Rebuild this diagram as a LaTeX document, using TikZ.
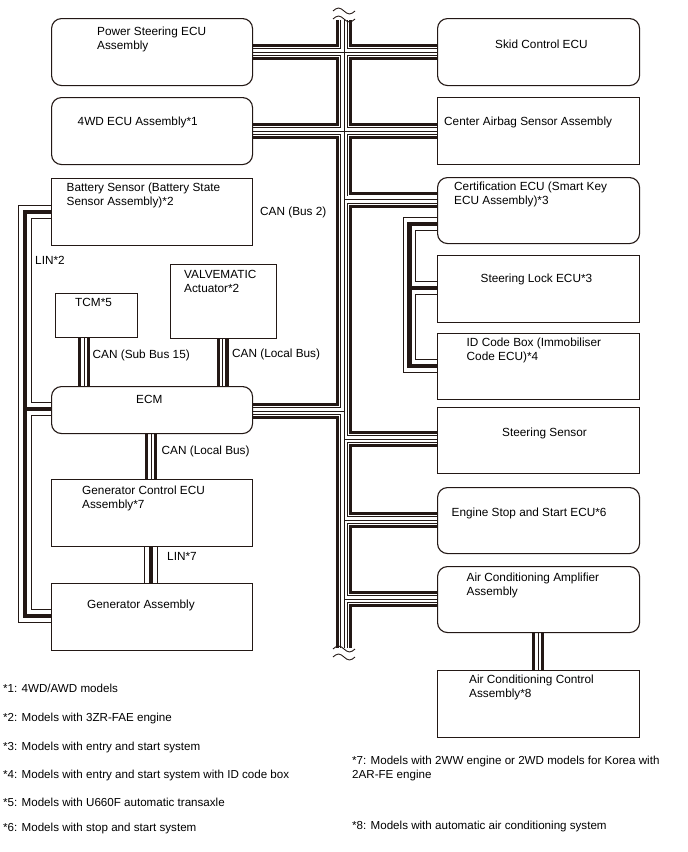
\documentclass[tikz,border=0pt]{standalone}
\usepackage{fontspec}
\setmainfont{Liberation Sans}
\usetikzlibrary{backgrounds}
\definecolor{ink}{RGB}{35,24,21}
\newcommand\mainbus{(ttop) -- (tbot)
  (ps.east |- bA) -- (sk.west |- bA)
  (wd.east |- bB) -- (ca.west |- bB)
  (bC) -- (ce.west |- bC)
  (ecm.east |- bD) -- (bD)
  (bE) -- (ss.west |- bE)
  (bF) -- (es.west |- bF)
  (bG) -- (ac.west |- bG)}
\newcommand\linbus{(bat.west |- lA) -- (lA) -- (lC) -- (gen.west |- lC)
  (lB) -- (ecm.west |- lB)
  (xG |- gc.south) -- (xG |- gen.north)}
\newcommand\certbus{(ce.west |- cA) -- (cA) -- (cC) -- (id.west |- cC)
  (cB) -- (sl.west |- cB)}
\newcommand\localbus{(xT |- tcm.south) -- (xT |- ecm.north)
  (xV |- va.south) -- (xV |- ecm.north)
  (xG |- ecm.south) -- (xG |- gc.north)
  (xA |- ac.south) -- (xA |- acc.north)}
\begin{document}
\begin{tikzpicture}[x=1pt,y=-1pt,
  box/.style={draw=ink, fill=white, line width=1.1pt, inner sep=0pt, anchor=north west},
  rbox/.style={box, rounded corners=10pt},
  txt/.style={anchor=north west, inner sep=0pt, align=left, font=\fontsize{11.8}{14}\selectfont},
  foot/.style={anchor=north west, inner sep=0pt, align=left, font=\fontsize{11.6}{14}\selectfont},
  wave/.style={draw=ink, line width=0.9pt}]
\path[use as bounding box] (0,0) rectangle (688,852);

% ---- boxes, left column
\node[rbox, minimum width=201pt, minimum height=67pt] (ps) at (51,18) {};
\node[rbox, minimum width=201pt, minimum height=67pt] (wd) at (51,97) {};
\node[box, minimum width=201pt, minimum height=67pt] (bat) at (51,178) {};
\node[box, minimum width=82pt, minimum height=44pt] (tcm) at (55,293) {};
\node[box, minimum width=106pt, minimum height=74pt] (va) at (170,264) {};
\node[rbox, minimum width=201pt, minimum height=47pt] (ecm) at (51,386) {};
\node[box, minimum width=201pt, minimum height=67pt] (gc) at (51,479) {};
\node[box, minimum width=201pt, minimum height=67pt] (gen) at (51,583) {};
% ---- boxes, right column
\node[rbox, minimum width=202pt, minimum height=67pt] (sk) at (437,18) {};
\node[box, minimum width=202pt, minimum height=67pt] (ca) at (437,97) {};
\node[rbox, minimum width=202pt, minimum height=66pt] (ce) at (437,177) {};
\node[box, minimum width=202pt, minimum height=67pt] (sl) at (437,255) {};
\node[box, minimum width=202pt, minimum height=66pt] (id) at (437,333) {};
\node[box, minimum width=202pt, minimum height=66pt] (ss) at (437,407) {};
\node[rbox, minimum width=202pt, minimum height=66pt] (es) at (437,487) {};
\node[rbox, minimum width=202pt, minimum height=66pt] (ac) at (437,566) {};
\node[box, minimum width=202pt, minimum height=67pt] (acc) at (437,670) {};

% ---- bus coordinates
\coordinate (ttop) at (344,20);
\coordinate (tbot) at (344,648);
\coordinate (bA) at (344,52);
\coordinate (bB) at (344,131);
\coordinate (bC) at (344,199.5);
\coordinate (bD) at (344,411);
\coordinate (bE) at (344,439);
\coordinate (bF) at (344,520);
\coordinate (bG) at (344,599);
\coordinate (lA) at (25,212);
\coordinate (lB) at (25,409);
\coordinate (lC) at (25,616);
\coordinate (cA) at (409.5,224);
\coordinate (cB) at (409.5,288);
\coordinate (cC) at (409.5,366);
\coordinate (xT) at (84,0);
\coordinate (xV) at (222.5,0);
\coordinate (xG) at (151,0);
\coordinate (xA) at (538,0);

\begin{scope}[on background layer]
  % main CAN bus
  \draw[ink, line width=16pt] \mainbus;
  \draw[white, line width=10pt] \mainbus;
  \draw[ink, line width=8pt] \mainbus;
  \draw[white, line width=6.2pt] \mainbus;
  \draw[ink, line width=0.9pt] \mainbus;
  % LIN lines
  \draw[ink, line width=13.6pt] \linbus;
  \draw[white, line width=11.2pt] \linbus;
  \draw[ink, line width=4pt] \linbus;
  % certification group
  \draw[ink, line width=13.6pt] \certbus;
  \draw[white, line width=11.2pt] \certbus;
  \draw[ink, line width=4.5pt] \certbus;
  % local CAN
  \draw[ink, line width=12pt] \localbus;
  \draw[white, line width=5.6pt] \localbus;
  \draw[ink, line width=1pt] \localbus;
\end{scope}

% ---- break marks
\draw[wave] (333,11) sin (338.5,8) cos (344,11) sin (349.5,14) cos (355,11);
\draw[wave] (333,19) sin (338.5,16) cos (344,19) sin (349.5,22) cos (355,19);
\draw[wave] (333,649) sin (338.5,646) cos (344,649) sin (349.5,652) cos (355,649);
\draw[wave] (333,657) sin (338.5,654) cos (344,657) sin (349.5,660) cos (355,657);

% ---- texts
\node[txt] (pst) at (97,27) {Power Steering ECU\\Assembly};
\node[txt] (wdt) at (77.5,116.5) {4WD ECU Assembly*1};
\node[txt] (batt) at (66.5,183) {Battery Sensor (Battery State\\Sensor Assembly)*2};
\node[txt] (canb2) at (260,206.5) {CAN (Bus 2)};
\node[txt] (lin2) at (35,256) {LIN*2};
\node[txt] (tcmt) at (75,298) {TCM*5};
\node[txt] (vat) at (184,270) {VALVEMATIC\\Actuator*2};
\node[txt] (cansb) at (92.5,350) {CAN (Sub Bus 15)};
\node[txt] (canlb1) at (232,349) {CAN (Local Bus)};
\node[txt] (ecmt) at (136,395) {ECM};
\node[txt] (canlb2) at (161.5,445.5) {CAN (Local Bus)};
\node[txt] (gct) at (82,485.5) {Generator Control ECU\\Assembly*7};
\node[txt] (lin7) at (167,552) {LIN*7};
\node[txt] (gent) at (87,600) {Generator Assembly};

\node[txt] (skt) at (495,40) {Skid Control ECU};
\node[txt] (cat) at (444,117) {Center Airbag Sensor Assembly};
\node[txt] (cet) at (454,181.5) {Certification ECU (Smart Key\\ECU Assembly)*3};
\node[txt] (slt) at (480.5,274) {Steering Lock ECU*3};
\node[txt] (idt) at (466.5,338) {ID Code Box (Immobiliser\\Code ECU)*4};
\node[txt] (sst) at (502,428) {Steering Sensor};
\node[txt] (est) at (451.5,508) {Engine Stop and Start ECU*6};
\node[txt] (act) at (466.5,573) {Air Conditioning Amplifier\\Assembly};
\node[txt] (acct) at (469,675) {Air Conditioning Control\\Assembly*8};

% ---- footnotes
\node[foot] (f1) at (3,684) {*1: 4WD/AWD models};
\node[foot] (f2) at (3,713) {*2: Models with 3ZR-FAE engine};
\node[foot] (f3) at (3,742) {*3: Models with entry and start system};
\node[foot] (f4) at (3,770) {*4: Models with entry and start system with ID code box};
\node[foot] (f5) at (3,798) {*5: Models with U660F automatic transaxle};
\node[foot] (f6) at (3,823) {*6: Models with stop and start system};
\node[foot] (f7) at (352,756) {*7: Models with 2WW engine or 2WD models for Korea with\\2AR-FE engine};
\node[foot] (f8) at (352,821) {*8: Models with automatic air conditioning system};
\end{tikzpicture}
\end{document}
